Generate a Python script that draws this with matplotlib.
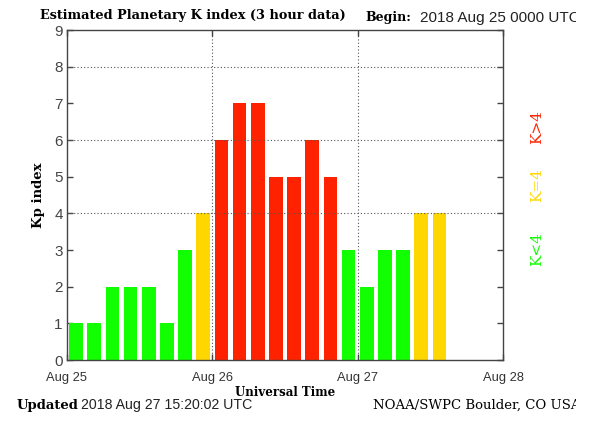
import matplotlib
matplotlib.use("Agg")
import matplotlib.pyplot as plt
from matplotlib.patches import Rectangle
import numpy as np

# Data: estimated planetary Kp index, 3-hour intervals starting 2018 Aug 25 00 UTC
kp_values = [1, 1, 2, 2, 2, 1, 3, 4,
             6, 7, 7, 5, 5, 6, 5, 3,
             2, 3, 3, 4, 4]
day_labels = ["Aug 25", "Aug 26", "Aug 27", "Aug 28"]
y_ticks = list(range(0, 10))

GREEN = "#11ff00"
YELLOW = "#ffd700"
RED = "#ff2200"

def kcolor(v):
    if v < 4:
        return GREEN
    if v == 4:
        return YELLOW
    return RED

serif = ["DejaVu Serif"]
sans = ["Liberation Sans", "DejaVu Sans"]

fig = plt.figure(figsize=(6.03, 4.33), dpi=100)
ax = fig.add_axes([67/603, 1-360/433, (503-67)/603, (360-30)/433])

slot = 3.0
x = np.arange(len(kp_values)) * slot + slot / 2
ax.bar(x, kp_values, width=slot * 0.76, color=[kcolor(v) for v in kp_values],
       edgecolor="none", zorder=2)

ax.set_xlim(0, 72)
ax.set_ylim(0, 9)

# Grid lines (dotted)
for yv in [4, 6, 8]:
    ax.axhline(yv, color="#555555", linestyle=(0, (1, 2)), linewidth=0.8, zorder=3)
for xv in [24, 48]:
    ax.axvline(xv, color="#555555", linestyle=(0, (1, 2)), linewidth=0.8, zorder=1)

ax.set_xticks([0, 24, 48, 72])
ax.set_xticklabels(day_labels, family=sans, fontsize=9.3, color="#333333")
ax.set_xticks(x, minor=True)
ax.set_yticks(y_ticks)
ax.set_yticklabels([str(v) for v in y_ticks], family=sans, fontsize=11, color="#444444")

ax.tick_params(axis="both", which="major", direction="in", length=4, width=1,
               color="#444444", top=True, right=True)
ax.tick_params(axis="y", which="major", pad=3)
ax.tick_params(axis="x", which="major", pad=9)
ax.tick_params(axis="x", which="minor", direction="in", length=4, width=0.8,
               color="#eeeeee", top=False)
for s in ax.spines.values():
    s.set_color("#444444")
    s.set_linewidth(1.0)
    s.set_zorder(4)

ax.set_xlabel("Universal Time", family=serif, fontweight="bold", fontsize=8.5, labelpad=1)
ax.set_ylabel("Kp index", family=serif, fontweight="bold", fontsize=9.5, labelpad=7)

# Header texts
fig.text(40/603, 1-16/433, "Estimated Planetary K index (3 hour data)", family=serif,
         fontweight="bold", fontsize=9.3, va="center", ha="left")
fig.text(365/603, 1-18/433, "Begin:", family=serif, fontweight="bold", fontsize=9,
         va="center", ha="left")
fig.text(420/603, 1-18/433, "2018 Aug 25 0000 UTC", family=sans, fontsize=11,
         va="center", ha="left", color="#222222")

# Footer texts
fig.text(17/603, 1-405/433, "Updated", family=serif, fontweight="bold", fontsize=9.5,
         va="center", ha="left")
fig.text(81/603, 1-405/433, "2018 Aug 27 15:20:02 UTC", family=sans, fontsize=10.2,
         va="center", ha="left", color="#222222")
fig.text(373/603, 1-405/433, "NOAA/SWPC Boulder, CO USA", family=serif, fontsize=9.5,
         va="center", ha="left")

# Right-side legend texts
fig.text(537/603, 1-127/433, "K>4", family=serif, fontsize=11, color=RED,
         rotation=90, va="center", ha="center")
fig.text(537/603, 1-185/433, "K=4", family=serif, fontsize=11, color=YELLOW,
         rotation=90, va="center", ha="center")
fig.text(537/603, 1-249/433, "K<4", family=serif, fontsize=11, color=GREEN,
         rotation=90, va="center", ha="center")

# The original image is cut off at its right edge
fig.patches.append(Rectangle((576/603, 0), 1, 1, transform=fig.transFigure,
                             facecolor="white", edgecolor="none", zorder=100))

fig.savefig("out.png", dpi=100)
